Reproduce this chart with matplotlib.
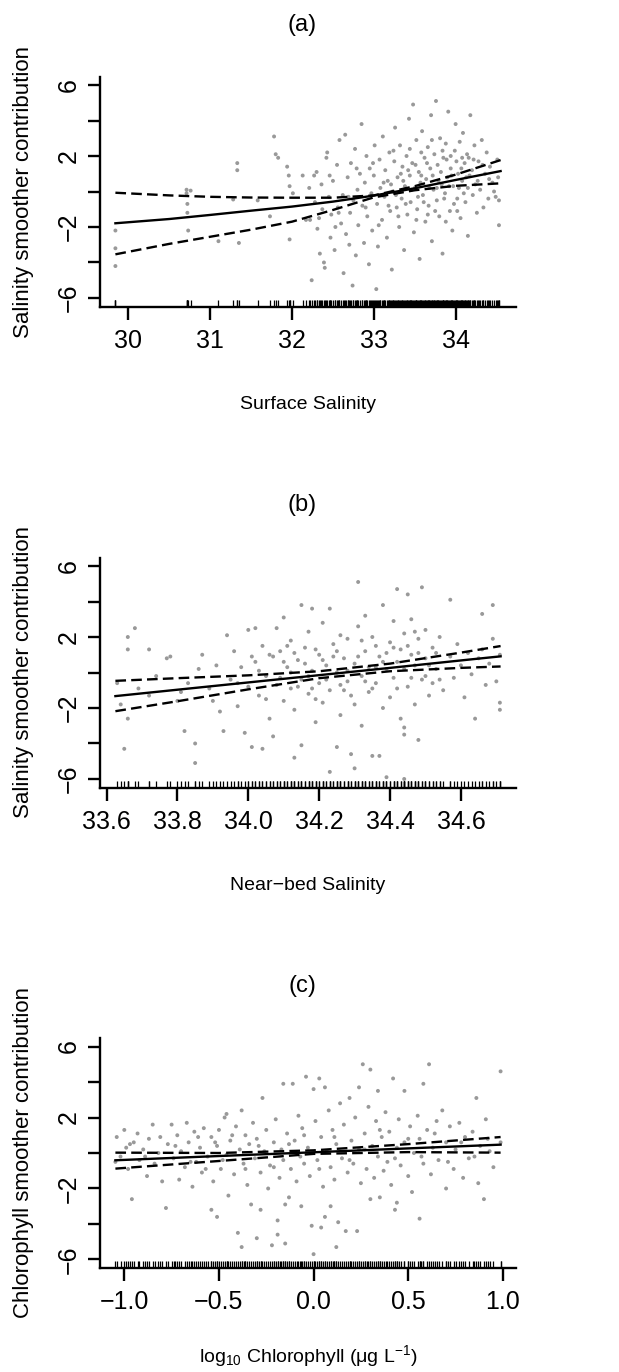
import numpy as np
import matplotlib
matplotlib.use("Agg")
from matplotlib import pyplot as plt

plt.rcParams['font.family'] = ['Liberation Sans', 'DejaVu Sans']
plt.rcParams['mathtext.fontset'] = 'custom'
plt.rcParams['mathtext.rm'] = 'Liberation Sans'
plt.rcParams['mathtext.it'] = 'Liberation Sans:italic'

# ---- panel (a) surface salinity: partial residuals (x, y)
surf_pts = [
    (29.84, -2.2), (29.84, -3.2), (29.84, -4.2),
    (30.71, 0.1), (30.71, -0.1), (30.72, -0.7), (30.72, -1.2), (30.73, -2.2), (30.76, 0.05),
    (31.10, -2.8), (31.28, -0.45), (31.33, 1.6), (31.33, 1.2), (31.35, -2.9),
    (31.58, -0.5), (31.73, -1.4), (31.78, 3.1), (31.80, 2.1), (31.83, 1.9),
    (31.94, 1.4), (31.96, 0.9), (31.97, 0.3), (31.97, -2.7), (32.01, -0.1), (32.13, 0.9), (32.17, -1.6),
    (32.21, 0.2), (32.22, -1.6), (32.24, -5.0), (32.27, 0.9), (32.28, -0.6), (32.30, 1.1), (32.31, -2.1),
    (32.34, -3.5), (32.36, 0.4), (32.37, -1.0), (32.39, -4.0), (32.40, -4.3), (32.42, 1.9), (32.43, 2.2),
    (32.45, -0.3), (32.47, -2.6), (32.48, -1.3), (32.50, 0.6), (32.52, -3.3), (32.53, -2.0), (32.55, 1.5),
    (32.56, -0.9), (32.58, 2.9), (32.60, -1.8), (32.62, -0.2), (32.63, -4.6), (32.65, 3.2), (32.66, -2.4),
    (32.68, 0.8), (32.70, -3.0), (32.71, -1.2), (32.72, 1.6), (32.74, -5.3), (32.75, -0.5), (32.77, 2.4),
    (32.78, -3.6), (32.80, 0.1), (32.81, -1.9), (32.83, 1.0), (32.85, 3.8), (32.86, -0.8), (32.88, -2.9),
    (32.89, 0.5), (32.91, 2.0), (32.92, -1.4), (32.94, -4.1), (32.95, 1.3), (32.97, -0.1), (32.98, -2.2),
    (33.00, 0.9), (33.01, 2.6), (33.03, -5.5), (33.04, -0.7), (33.05, -3.1), (33.07, 1.8), (33.08, 0.2),
    (33.10, -1.6), (33.11, 3.1), (33.13, -0.3), (33.14, 1.2), (33.16, -2.6), (33.17, 0.6), (33.19, 2.2),
    (33.20, -1.1), (33.22, -4.4), (33.23, 0.0), (33.25, 1.7), (33.26, 3.6), (33.28, -0.9), (33.29, 0.8),
    (33.31, -2.0), (33.32, 2.6), (33.34, -0.4), (33.35, 1.4), (33.37, -3.3), (33.38, 0.3), (33.40, 2.0),
    (33.41, -1.3), (33.43, 4.1), (33.44, 0.9), (33.45, -0.6), (33.47, 1.6), (33.48, 4.9), (33.49, -2.3),
    (33.50, 0.2), (33.52, 2.9), (33.53, -1.0), (33.55, 1.1), (33.56, -3.8), (33.57, 0.5), (33.59, 3.4),
    (33.60, -0.2), (33.62, 1.9), (33.63, -1.7), (33.64, 0.7), (33.66, 2.5), (33.67, -0.8), (33.69, 1.3),
    (33.70, 4.3), (33.71, -2.8), (33.73, 0.1), (33.74, 2.1), (33.76, 5.1), (33.77, -0.5), (33.78, 1.5),
    (33.80, -1.4), (33.81, 3.0), (33.83, 0.4), (33.84, -3.5), (33.85, 1.9), (33.87, -0.1), (33.88, 2.7),
    (33.90, 0.8), (33.91, 4.5), (33.93, -1.1), (33.94, 1.3), (33.96, -2.2), (33.97, 0.3), (33.99, 2.3),
    (34.00, 3.8), (34.02, -0.4), (34.03, 1.0), (34.05, 2.8), (34.06, -1.5), (34.08, 0.6), (34.09, 3.3),
    (34.11, 1.6), (34.12, -0.6), (34.14, 2.1), (34.15, -2.5), (34.17, 0.9), (34.18, 4.3), (34.20, 1.2),
    (34.21, -0.2), (34.23, 2.6), (34.24, 0.4), (34.26, -1.2), (34.28, 1.7), (34.30, 0.1), (34.32, 2.9),
    (34.34, -0.9), (34.36, 1.0), (34.38, 2.2), (34.40, -0.4), (34.42, 1.4), (34.45, 0.5), (34.47, 0.0),
    (34.49, -0.3), (34.51, 1.8), (34.53, -1.9), (34.53, -0.5), (34.52, 0.8),
    (33.21, 0.4), (33.27, -0.2), (33.33, 1.0), (33.36, 0.6), (33.39, -0.7), (33.42, 1.2), (33.46, 0.1),
    (33.51, 1.5), (33.54, -0.3), (33.58, 0.9), (33.61, -0.6), (33.65, 1.6), (33.68, 0.2), (33.72, 0.9),
    (33.75, -1.1), (33.79, 0.6), (33.82, 1.1), (33.86, -0.4), (33.89, 1.8), (33.92, 0.3), (33.95, 0.9),
    (33.98, -0.7), (34.01, 1.7), (34.04, 0.2), (34.07, 1.3), (34.10, -0.1), (34.13, 0.8), (34.16, 1.9),
    (32.33, -1.5), (32.46, 0.9), (32.57, -1.2), (32.69, -0.3), (32.79, 1.3), (32.90, -0.9), (32.99, 1.6),
    (33.06, -1.9), (33.12, 0.5), (33.18, -0.8), (33.24, 2.3), (33.30, -1.4), (33.44, 2.4), (33.52, -1.6),
    (33.58, 2.2), (33.66, -1.3), (33.71, 2.9), (33.77, 0.2), (33.84, 2.3), (33.88, -1.7), (33.94, 2.0),
    (34.02, -1.1), (34.08, 1.9), (34.15, 0.2), (34.22, 1.8), (34.27, 0.6), (34.33, 1.5), (34.41, 0.7),
]
surf_fit_x = [29.84, 30.5, 31.0, 31.5, 32.0, 32.5, 33.0, 33.5, 34.0, 34.55]
surf_fit = [-1.79, -1.55, -1.32, -1.08, -0.85, -0.57, -0.23, 0.18, 0.65, 1.15]
surf_upper = [-0.07, -0.22, -0.30, -0.34, -0.35, -0.35, -0.22, 0.30, 0.95, 1.77]
surf_lower = [-3.54, -2.95, -2.55, -2.15, -1.70, -1.04, -0.33, 0.07, 0.32, 0.46]

# ---- panel (b) near-bed salinity
bed_pts = [
    (33.63, -0.6), (33.64, -1.8), (33.65, -4.3), (33.66, 2.0), (33.66, 1.3), (33.66, -2.6), (33.68, 2.5),
    (33.69, -0.9), (33.72, 1.3), (33.72, -1.3), (33.74, -0.2), (33.77, 0.8), (33.78, 0.9), (33.80, -1.6),
    (33.81, -1.1), (33.82, -3.3), (33.83, -0.6), (33.85, -4.0), (33.85, -5.1), (33.86, 0.2), (33.87, 1.0),
    (33.89, -0.9), (33.90, -1.6), (33.91, 0.4), (33.92, -2.2), (33.93, -3.3), (33.94, 2.1), (33.95, -0.4),
    (33.96, 1.2), (33.97, -1.9), (33.98, 0.3), (33.99, -3.4), (34.00, 2.4), (34.00, -0.8), (34.01, -4.2),
    (34.02, 2.5), (34.02, 0.6), (34.03, -1.3), (34.04, -4.3), (34.04, 1.5), (34.05, -0.2), (34.06, -2.6),
    (34.07, 0.9), (34.07, -3.6), (34.08, 2.5), (34.08, -0.7), (34.09, 1.2), (34.10, 3.1), (34.10, -1.6),
    (34.11, 0.3), (34.12, -0.9), (34.12, 1.8), (34.13, -4.8), (34.13, -2.1), (34.14, 0.7), (34.15, 3.8),
    (34.15, -4.1), (34.15, -0.4), (34.16, 1.4), (34.17, -1.2), (34.17, 2.3), (34.18, 3.6), (34.18, 0.1),
    (34.19, -2.8), (34.20, 1.0), (34.20, -0.6), (34.21, 2.8), (34.21, -1.7), (34.22, 0.4), (34.23, 3.6),
    (34.23, -5.6), (34.23, -1.0), (34.24, 1.6), (34.25, -4.2), (34.25, 0.0), (34.26, 2.1), (34.26, -2.4),
    (34.27, 0.8), (34.28, -0.5), (34.28, 1.9), (34.29, -4.6), (34.29, -1.3), (34.30, -5.4), (34.30, 0.5),
    (34.31, 5.1), (34.31, 2.6), (34.32, -0.2), (34.32, -3.0), (34.33, 1.2), (34.33, 3.2), (34.34, -1.1),
    (34.34, 0.3), (34.35, -4.7), (34.35, 2.0), (34.36, -0.6), (34.36, 1.5), (34.37, -4.7), (34.37, 0.9),
    (34.38, -2.0), (34.38, 3.8), (34.39, -5.9), (34.39, 0.2), (34.40, 1.7), (34.40, -1.4), (34.41, 2.9),
    (34.41, -0.3), (34.42, 4.7), (34.42, 0.6), (34.43, -2.6), (34.43, 1.3), (34.44, -3.1), (34.44, -3.5),
    (34.44, -6.0), (34.44, 2.2), (34.45, 4.4), (34.45, -0.8), (34.46, 1.0), (34.46, 3.0), (34.47, -1.8),
    (34.47, 0.4), (34.48, -3.8), (34.48, 1.9), (34.49, 4.8), (34.49, -0.4), (34.50, 2.4), (34.50, 0.8),
    (34.51, -1.3), (34.52, 1.4), (34.52, -0.6), (34.53, 0.2), (34.54, 2.0), (34.55, -1.0),
    (34.57, 4.1), (34.57, 0.9), (34.58, -0.3), (34.59, 1.6), (34.60, 0.4), (34.61, -1.4), (34.62, 1.1),
    (34.63, -0.1), (34.64, -2.6), (34.65, 0.8), (34.66, 3.3), (34.66, 1.3), (34.67, -0.7), (34.68, 0.5),
    (34.69, 3.8), (34.69, 1.9), (34.70, -0.5), (34.71, -1.7), (34.71, -2.1), (34.71, 1.0),
    (34.03, 0.1), (34.06, 1.0), (34.09, -0.3), (34.11, 1.5), (34.14, -0.8), (34.16, 0.5), (34.19, 1.3),
    (34.22, -0.4), (34.24, 0.9), (34.27, -1.0), (34.31, 0.9), (34.33, -0.5), (34.36, 0.3), (34.39, 1.1),
    (34.42, -0.9), (34.45, 1.5), (34.47, 2.3), (34.50, -0.2), (34.53, 1.1), (34.12, 0.0), (34.18, -0.9),
    (33.97, -0.6), (34.01, 0.9), (34.05, -1.5), (34.10, 0.6), (34.13, 1.1), (34.17, -0.2), (34.21, 0.7),
    (34.25, 1.2), (34.28, 0.1), (34.32, 1.8), (34.35, -0.9), (34.38, 0.6), (34.41, 1.4), (34.44, 0.2),
    (34.46, -0.3), (34.48, 1.1), (34.51, 0.4), (34.54, -0.4), (34.19, -1.5), (34.26, -0.7), (34.30, -1.8),
]
bed_fit_x = [33.625, 33.8, 34.0, 34.2, 34.4, 34.6, 34.712]
bed_fit = [-1.33, -0.97, -0.56, -0.15, 0.26, 0.68, 0.91]
bed_upper = [-0.47, -0.32, -0.16, 0.07, 0.50, 1.12, 1.49]
bed_lower = [-2.18, -1.62, -0.95, -0.32, 0.07, 0.26, 0.34]

# ---- panel (c) log10 chlorophyll
chl_pts = [
    (-1.047, -0.5), (-1.04, 0.9), (-1.02, -0.2), (-1.00, 1.3), (-0.99, 0.3), (-0.98, -0.9), (-0.96, -2.6),
    (-0.95, 0.6), (-0.93, 1.1), (-0.92, -0.4), (-0.90, 0.2), (-0.88, -1.3), (-0.87, 0.8), (-0.85, 1.6),
    (-0.84, -0.6), (-0.82, 0.0), (-0.80, -1.6), (-0.78, -3.1), (-0.77, 0.5), (-0.75, 1.6), (-0.74, -0.3),
    (-0.72, 1.0), (-0.71, -1.5), (-0.70, 0.1), (-0.68, -0.8), (-0.67, 1.7), (-0.66, 0.6), (-0.64, -1.9),
    (-0.63, 1.2), (-0.62, -0.5), (-0.60, 0.3), (-0.59, -1.1), (-0.58, 1.4), (-0.56, -0.2), (-0.54, -3.2),
    (-0.54, 0.9), (-0.53, -1.6), (-0.51, -3.6), (-0.51, 0.4), (-0.50, 1.3), (-0.49, -0.9), (-0.47, 2.0),
    (-0.46, 2.2), (-0.46, -0.1), (-0.45, -2.4), (-0.44, 0.7), (-0.42, -1.2), (-0.41, 1.5), (-0.40, -4.5),
    (-0.39, 0.2), (-0.38, 2.4), (-0.38, -5.3), (-0.37, -0.6), (-0.36, 1.0), (-0.35, -1.8), (-0.34, 0.5),
    (-0.33, -2.9), (-0.32, 1.7), (-0.31, -0.3), (-0.30, -4.8), (-0.30, 0.8), (-0.28, -3.2), (-0.28, -1.1),
    (-0.27, 3.1), (-0.26, 0.1), (-0.25, 1.3), (-0.24, -2.0), (-0.23, -0.7), (-0.22, -5.2), (-0.21, 0.6),
    (-0.20, 1.9), (-0.19, -3.8), (-0.19, -4.6), (-0.18, -1.4), (-0.17, 0.2), (-0.16, 3.9), (-0.16, -0.4),
    (-0.15, -2.9), (-0.15, -5.1), (-0.14, 1.1), (-0.13, -2.5), (-0.12, -0.9), (-0.11, 3.9), (-0.10, 0.7),
    (-0.09, -1.6), (-0.08, 2.1), (-0.07, -0.2), (-0.065, -3.0), (-0.06, 1.4), (-0.05, -0.6), (-0.04, 4.3),
    (-0.03, 0.3), (-0.02, -1.3), (-0.01, -4.1), (0.00, 3.6), (0.00, -5.7), (0.01, 1.8), (0.02, -0.4),
    (0.03, 4.2), (0.04, -4.2), (0.04, 0.9), (0.05, -1.9), (0.06, 3.7), (0.06, -3.6), (0.07, 0.1),
    (0.08, 2.4), (0.09, -3.0), (0.09, -0.8), (0.10, 1.3), (0.11, -1.5), (0.12, -5.3), (0.12, 0.5),
    (0.13, -3.9), (0.14, 2.8), (0.15, -0.3), (0.16, 1.6), (0.17, -4.4), (0.18, -1.1), (0.19, 3.1),
    (0.20, 0.7), (0.21, -0.6), (0.22, 2.0), (0.23, -4.4), (0.24, 3.7), (0.24, 0.2), (0.25, -1.7),
    (0.26, 5.0), (0.27, 1.1), (0.28, -0.9), (0.29, 2.6), (0.30, -2.6), (0.30, 4.7), (0.31, 0.4),
    (0.32, -1.4), (0.33, 1.8), (0.34, -0.2), (0.35, -2.5), (0.34, 3.5), (0.36, 0.9), (0.37, -1.0),
    (0.38, 2.3), (0.39, -0.5), (0.40, 1.2), (0.41, -1.8), (0.42, 4.2), (0.43, -3.2), (0.44, -2.8),
    (0.44, 0.3), (0.45, 1.9), (0.46, -0.7), (0.48, 3.5), (0.48, 0.6), (0.50, -1.3), (0.51, 1.5),
    (0.52, -2.2), (0.53, 0.0), (0.55, 2.1), (0.56, -3.7), (0.56, 0.8), (0.58, 3.9), (0.58, -0.6),
    (0.60, 1.3), (0.61, 5.0), (0.62, -1.2), (0.63, 0.3), (0.65, 1.8), (0.66, -0.4), (0.68, 2.4),
    (0.70, -2.0), (0.70, 0.6), (0.72, 1.5), (0.74, -0.9), (0.75, 0.2), (0.77, 1.7), (0.79, -1.4),
    (0.80, 0.9), (0.82, -0.3), (0.84, 1.2), (0.86, 3.1), (0.87, -1.7), (0.88, 0.4), (0.90, -2.6),
    (0.91, 1.9), (0.93, 0.1), (0.95, -0.8), (0.988, 4.6), (0.988, 0.6),
    (-0.97, 0.5), (-0.89, -0.2), (-0.81, 0.9), (-0.73, 0.4), (-0.65, -0.5), (-0.61, 0.9), (-0.57, -0.9),
    (-0.52, 0.6), (-0.48, -0.4), (-0.43, 1.0), (-0.36, -0.9), (-0.29, 0.4), (-0.21, -0.8), (-0.13, 0.5),
    (-0.05, 1.0), (0.03, -0.9), (0.11, 0.9), (0.19, -0.4), (0.27, 0.2), (0.35, 1.3), (0.43, -0.3),
    (0.50, 0.8), (0.57, -0.2), (0.64, 1.1), (0.71, -0.5), (0.78, 0.6), (0.85, -0.2), (0.92, 0.8),
]
chl_fit_x = [-1.047, -0.5, 0.0, 0.5, 0.988]
chl_fit = [-0.41, -0.17, 0.04, 0.26, 0.47]
chl_upper = [0.02, 0.00, 0.15, 0.50, 0.90]
chl_lower = [-0.88, -0.45, -0.05, 0.05, 0.02]

titles = ['(a)', '(b)', '(c)']
xlabels = ['Surface Salinity', 'Near\u2212bed Salinity',
           r'log$_{10}$ Chlorophyll $(\mathrm{\mu}$g L$^{-1})$']
ylabels = ['Salinity smoother contribution', 'Salinity smoother contribution',
           'Chlorophyll smoother contribution']
xticks = [[30, 31, 32, 33, 34],
          [33.6, 33.8, 34.0, 34.2, 34.4, 34.6],
          [-1.0, -0.5, 0.0, 0.5, 1.0]]
xticklabels = [['30', '31', '32', '33', '34'],
               ['33.6', '33.8', '34.0', '34.2', '34.4', '34.6'],
               ['\u22121.0', '\u22120.5', '0.0', '0.5', '1.0']]
yticks = [-6, -4, -2, 0, 2, 4, 6]
yticklabels = ['\u22126', '', '\u22122', '', '2', '', '6']

panels = [(surf_pts, surf_fit_x, surf_fit, surf_upper, surf_lower),
          (bed_pts, bed_fit_x, bed_fit, bed_upper, bed_lower),
          (chl_pts, chl_fit_x, chl_fit, chl_upper, chl_lower)]

W, H = 619, 1372
fig = plt.figure(figsize=(W / 100, H / 100), dpi=100)
tops = [76.5, 557.5, 1038]  # pixel rows of the plot regions
left, right, ph = 100, 516, 230
xlab_off = [98, 98, 88]

for i, (pts, fx, fit, up, lo) in enumerate(panels):
    top = tops[i]
    ax = fig.add_axes([left / W, 1 - (top + ph) / H, (right - left) / W, ph / H])
    px = np.array([p[0] for p in pts])
    py = np.array([p[1] for p in pts])
    ax.scatter(px, py, s=8, c='#6e6e6e', alpha=0.7, edgecolors='none', zorder=1)
    ax.plot(fx, fit, color='k', lw=1.7, zorder=3)
    ax.plot(fx, up, color='k', lw=1.7, dashes=(4.5, 2.2), zorder=3)
    ax.plot(fx, lo, color='k', lw=1.7, dashes=(4.5, 2.2), zorder=3)
    # rug of the covariate values
    ax.vlines(px, 0, 0.03, transform=ax.get_xaxis_transform(), color='k', lw=0.9)

    r = fx[-1] - fx[0]
    ax.set_xlim(fx[0] - 0.04 * r, fx[-1] + 0.04 * r)
    ax.set_ylim(-6.48, 6.48)
    ax.set_xticks(xticks[i])
    ax.set_xticklabels(xticklabels[i])
    ax.set_yticks(yticks)
    ax.set_yticklabels(yticklabels, rotation=90, va='center')
    for s in ['top', 'right']:
        ax.spines[s].set_visible(False)
    for s in ['left', 'bottom']:
        ax.spines[s].set_linewidth(1.7)
    ax.tick_params(direction='out', length=9, width=1.7, labelsize=18)
    ax.tick_params(axis='x', pad=7)
    ax.tick_params(axis='y', pad=5)

    fig.text(302 / W, 1 - (top - 52) / H, titles[i], ha='center', va='center', fontsize=17)
    fig.text(308 / W, 1 - (top + ph + xlab_off[i]) / H, xlabels[i], ha='center', va='center',
             fontsize=14)
    fig.text(24 / W, 1 - (top + ph / 2) / H, ylabels[i], ha='center', va='center',
             rotation=90, fontsize=16)

fig.savefig('out.png', dpi=100, facecolor='white')
